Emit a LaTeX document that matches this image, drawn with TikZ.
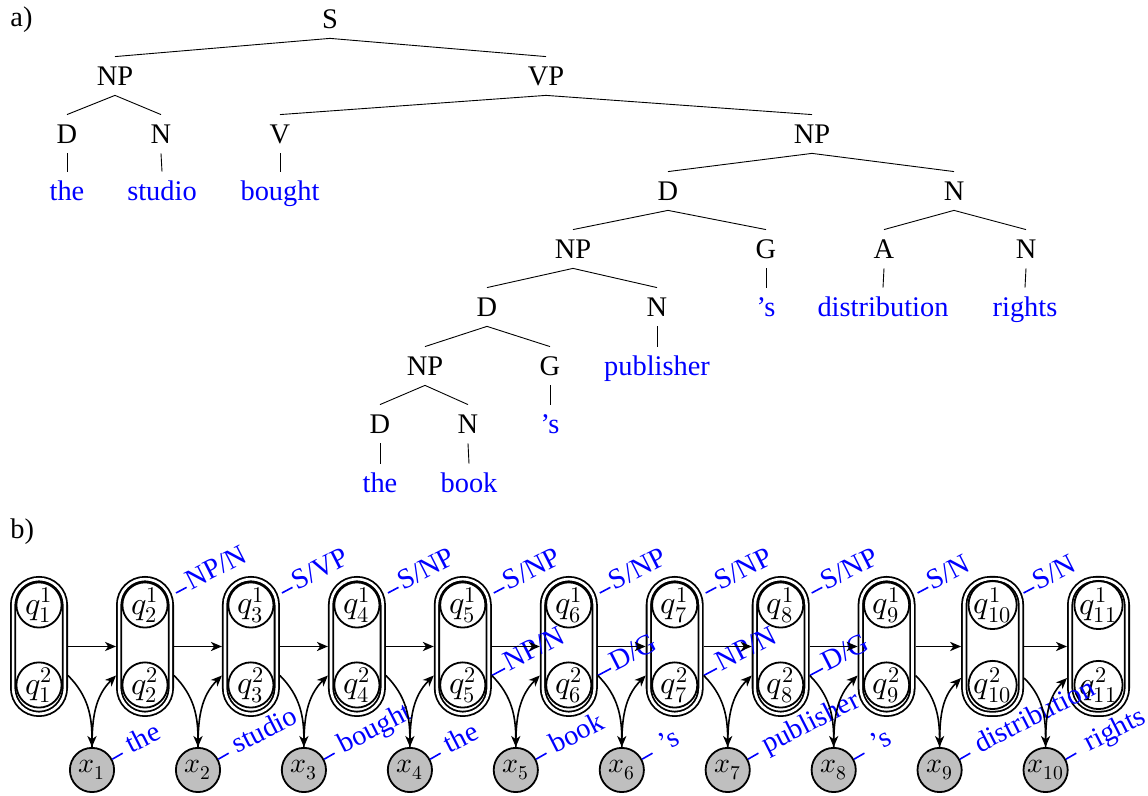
\documentclass[tikz,border=0pt]{standalone}
\usepackage{fontspec}
\usepackage{unicode-math}
\setmainfont{Liberation Serif}
\setmathfont{Latin Modern Math}
\usetikzlibrary{arrows.meta,calc}
\begin{document}
\begin{tikzpicture}[x=0.5pt,y=0.5pt,
  every node/.style={font=\fontsize{14.2pt}{17pt}\selectfont},
  tn/.style={inner sep=0pt, outer sep=5pt, text height=9.4pt, text depth=0pt},
  wd/.style={tn, text=blue},
  te/.style={line width=0.45pt},
  stbox/.style={draw, double, line width=0.9pt, double distance=1.3pt, rounded corners=12.9pt,
    minimum width=25.9pt, minimum height=67.4pt, inner sep=0pt, outer sep=1.55pt},
  qst/.style={circle, draw, line width=0.9pt, minimum size=22.6pt, inner sep=0pt,
    font=\fontsize{16pt}{19pt}\selectfont},
  obs/.style={circle, draw, fill=black!25, line width=0.9pt, minimum size=22.1pt, inner sep=0pt,
    font=\fontsize{14pt}{17pt}\selectfont},
  arr/.style={line width=0.8pt, -{Stealth[length=5.5pt,width=4.6pt,inset=1.6pt]}},
  ldash/.style={draw=blue, line width=0.8pt},
  ltxt/.style={text=blue, rotate=27, anchor=mid west, inner ysep=0pt}
]
\useasboundingbox (0,0) rectangle (1148,796);

% ---------- a) tree ----------
\node[anchor=base west, inner sep=0pt] (la) at (10,769.5) {a)};
\node[tn] (S) at (330,777) {S};
\node[tn] (NPa) at (115,720) {NP};
\node[tn] (VP) at (546,720) {VP};
\node[tn] (Da) at (67,662) {D};
\node[tn] (Na) at (161,662) {N};
\node[tn] (V) at (280,662) {V};
\node[tn] (NPb) at (812,662) {NP};
\node[wd] (w1) at (67,605) {the};
\node[wd] (w2) at (162,605) {studio};
\node[wd] (w3) at (280,605) {bought};
\node[tn] (Db) at (668,605) {D};
\node[tn] (Nb) at (954,605) {N};
\node[tn] (NPc) at (573,547) {NP};
\node[tn] (Ga) at (766,547) {G};
\node[tn] (A) at (884,547) {A};
\node[tn] (Nc) at (1026,547) {N};
\node[tn] (Dc) at (487,489) {D};
\node[tn] (Nd) at (657,489) {N};
\node[wd] (w4) at (766,489) {’s};
\node[wd] (w5) at (883,489) {distribution};
\node[wd] (w6) at (1025,489) {rights};
\node[tn] (NPd) at (425,430) {NP};
\node[tn] (Gb) at (550,430) {G};
\node[wd] (w7) at (657,430) {publisher};
\node[tn] (Dd) at (380,372) {D};
\node[tn] (Ne) at (468,372) {N};
\node[wd] (w8) at (550,372) {’s};
\node[wd] (w9) at (380,313) {the};
\node[wd] (w10) at (469,313) {book};

\foreach \p/\c in {S/NPa,S/VP,NPa/Da,NPa/Na,Da/w1,Na/w2,VP/V,VP/NPb,V/w3,
  NPb/Db,NPb/Nb,Db/NPc,Db/Ga,Ga/w4,Nb/A,Nb/Nc,A/w5,Nc/w6,NPc/Dc,NPc/Nd,Nd/w7,
  Dc/NPd,Dc/Gb,Gb/w8,NPd/Dd,NPd/Ne,Dd/w9,Ne/w10}
  \draw[te] (\p.south) -- (\c.north);

% ---------- b) chain ----------
\node[anchor=base west, inner sep=0pt] (lb) at (10,257) {b)};

\foreach \i/\x/\w/\qs in {1/39/25.9/22.6, 2/145/25.9/22.6, 3/250.9/25.9/22.6, 4/356.9/25.9/22.6,
  5/462.8/25.9/22.6, 6/568.8/25.9/22.6, 7/674.7/25.9/22.6, 8/780.7/25.9/22.6,
  9/886.6/25.9/22.6, 10/992.6/28.4/24.1, 11/1098.5/28.4/24.1}{
  \node[stbox, minimum width=\w pt] (b\i) at (\x,149.5) {};
  \node[qst, minimum size=\qs pt] (qa\i) at (\x,191) {\makebox[0pt]{$q^1_{\i}$}};
  \node[qst, minimum size=\qs pt] (qb\i) at (\x,111) {\makebox[0pt]{$q^2_{\i}$}};
}

\foreach \i/\x in {1/92, 2/198, 3/303.9, 4/409.9, 5/515.8, 6/621.8, 7/727.7, 8/833.7, 9/939.6, 10/1045.6}
  \node[obs] (x\i) at (\x,26) {\makebox[0pt]{$x_{\i}$}};

% labels on boxes (top)
\foreach \i/\t in {2/NP\slash N, 3/S\slash VP, 4/S\slash NP, 5/S\slash NP, 6/S\slash NP,
  7/S\slash NP, 8/S\slash NP, 9/S\slash N, 10/S\slash N}
  \draw[ldash] ($(b\i.center)+(31,53.5)$) -- ++(28:12) node[ltxt, inner xsep=1pt] {\t};

% labels on boxes (bottom)
\foreach \i/\t in {5/NP\slash N, 6/D\slash G, 7/NP\slash N, 8/D\slash G}
  \draw[ldash] (b\i.-45) -- ++(28:15) node[ltxt, inner xsep=1pt] {\t};

% labels on observations
\foreach \i/\t/\g in {1/the/3.5, 2/studio/3.5, 3/bought/3.5, 4/the/3.5, 5/book/3.5,
  6/’s/5, 7/publisher/3.5, 8/’s/5, 9/distribution/4, 10/rights/6}
  \draw[ldash] (x\i.28) -- ++(30:12) node[ltxt, inner xsep=\g pt] {\t};

% arrows
\foreach \i [evaluate=\i as \j using int(\i+1)] in {1,...,10}{
  \draw[arr] (b\i.east) -- (b\j.west);
  \draw[arr] (b\i) to[out=-45,in=90] (x\i);
  \draw[arr] (x\i) to[out=90,in=225] (b\j);
}
\end{tikzpicture}
\end{document}
